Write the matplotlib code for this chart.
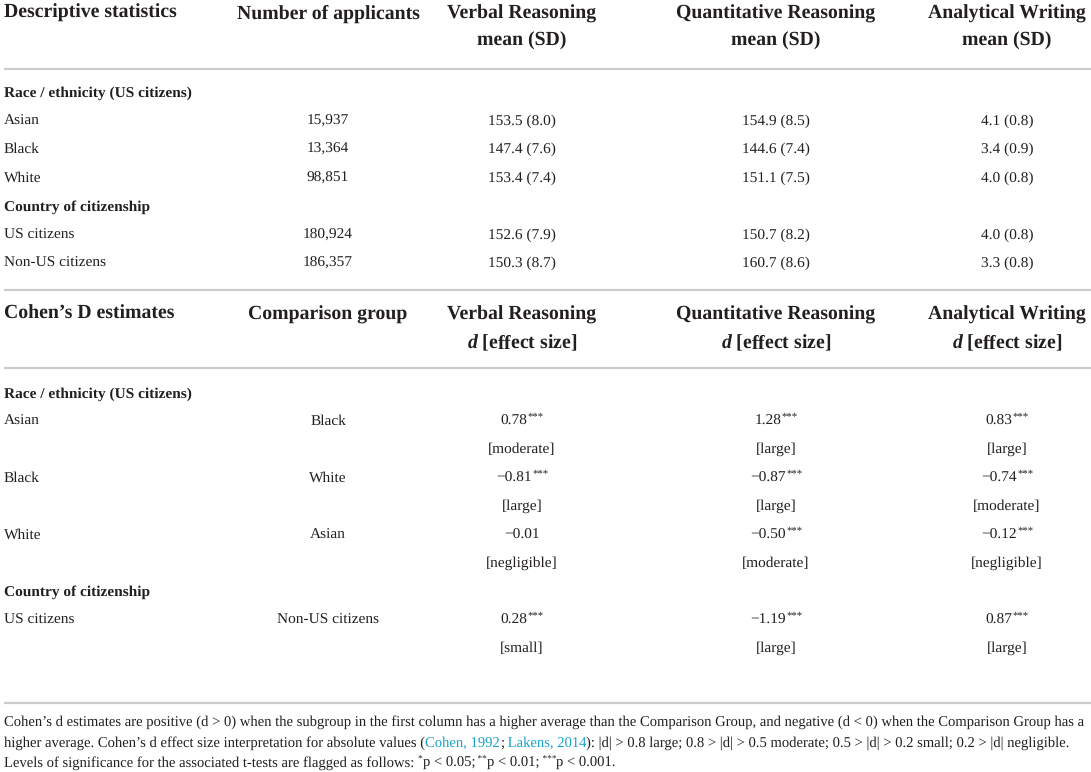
import matplotlib
matplotlib.use("Agg")
import matplotlib.pyplot as plt

plt.rcParams['font.family'] = ['Liberation Serif', 'DejaVu Serif']
plt.rcParams['mathtext.fontset'] = 'custom'
plt.rcParams['mathtext.rm'] = 'Liberation Serif'
plt.rcParams['mathtext.it'] = 'Liberation Serif:italic'
plt.rcParams['mathtext.bf'] = 'Liberation Serif:bold'
plt.rcParams['mathtext.bfit'] = 'Liberation Serif:italic:bold'
plt.rcParams['text.hinting'] = 'no_hinting'

# ---------------- data ----------------
desc_groups = ["Asian", "Black", "White", "US citizens", "Non-US citizens"]
n_applicants = ["15,937", "13,364", "98,851", "180,924", "186,357"]
vr_mean = [153.5, 147.4, 153.4, 152.6, 150.3]
vr_sd = [8.0, 7.6, 7.4, 7.9, 8.7]
qr_mean = [154.9, 144.6, 151.1, 150.7, 160.7]
qr_sd = [8.5, 7.4, 7.5, 8.2, 8.6]
aw_mean = [4.1, 3.4, 4.0, 4.0, 3.3]
aw_sd = [0.8, 0.9, 0.8, 0.8, 0.8]

d_groups = ["Asian", "Black", "White", "US citizens"]
d_comparison = ["Black", "White", "Asian", "Non-US citizens"]
vr_d = [0.78, -0.81, -0.01, 0.28]
vr_sig = ["***", "***", "", "***"]
vr_eff = ["moderate", "large", "negligible", "small"]
qr_d = [1.28, -0.87, -0.50, -1.19]
qr_sig = ["***", "***", "***", "***"]
qr_eff = ["large", "large", "moderate", "large"]
aw_d = [0.83, -0.74, -0.12, 0.87]
aw_sig = ["***", "***", "***", "***"]
aw_eff = ["large", "moderate", "negligible", "large"]

sec1_title = "Descriptive statistics"
sec2_title = "Cohen\u2019s D estimates"
sub_race = "Race / ethnicity (US citizens)"
sub_country = "Country of citizenship"

# ---------------- layout ----------------
W, H = 1091, 772
fig = plt.figure(figsize=(W / 100, H / 100), dpi=100)
ax = fig.add_axes([0, 0, 1, 1])
ax.set_xlim(0, W)
ax.set_ylim(H, 0)
ax.axis('off')
renderer = fig.canvas.get_renderer()

TXT = '#231f20'
LINE = '#cccccc'
CITE = '#1aa3c8'
HFS = 14.2
BFS = 11.1
FFS = 10.5
XL = 4
XC = [328, 522, 776, 1007]
VA = 'center_baseline'
DY = -1.8

def hline(y):
    ax.plot([XL, W], [y, y], color=LINE, lw=1.6, solid_capstyle='butt')

def t(x, y, s, ha='center', bold=False, fs=BFS, color=TXT):
    return ax.text(x, y + DY, s, ha=ha, va=VA, fontsize=fs,
                   fontweight='bold' if bold else 'normal', color=color)

def width(s, fs):
    tx = ax.text(0, 0, s, fontsize=fs)
    w = tx.get_window_extent(renderer).width
    tx.remove()
    return w

def fmt_d(v):
    s = f"{abs(v):.2f}"
    if v < 0:
        s = "\u2212" + s
    return s

def value_with_stars(xc, y, s, stars, fs=BFS):
    sfs = fs * 0.7
    wn = width(s, fs)
    ws = width(stars, sfs) if stars else 0
    x0 = xc - (wn + ws) / 2
    ax.text(x0, y + DY, s, ha='left', va=VA, fontsize=fs, color=TXT)
    if stars:
        ax.text(x0 + wn + 0.5, y + DY - 3, stars, ha='left', va=VA, fontsize=sfs, color=TXT)

# ---- section 1 header ----
t(XL, 13, sec1_title, ha='left', bold=True, fs=HFS)
t(XC[0], 13, "Number of applicants", bold=True, fs=HFS)
for x, name in zip(XC[1:], ["Verbal Reasoning", "Quantitative Reasoning", "Analytical Writing"]):
    t(x, 13, name, bold=True, fs=HFS)
    t(x, 41, "mean (SD)", bold=True, fs=HFS)
hline(69)

t(XL, 93, sub_race, ha='left', bold=True)
rows_y = [121, 149, 178, 235, 263]
t(XL, 207, sub_country, ha='left', bold=True)
for i, y in enumerate(rows_y):
    t(XL, y, desc_groups[i], ha='left')
    t(XC[0], y, n_applicants[i])
    t(XC[1], y, f"{vr_mean[i]:.1f} ({vr_sd[i]:.1f})")
    t(XC[2], y, f"{qr_mean[i]:.1f} ({qr_sd[i]:.1f})")
    t(XC[3], y, f"{aw_mean[i]:.1f} ({aw_sd[i]:.1f})")
hline(290)

# ---- section 2 header ----
t(XL, 314, sec2_title, ha='left', bold=True, fs=HFS)
t(XC[0], 314, "Comparison group", bold=True, fs=HFS)
for x, name in zip(XC[1:], ["Verbal Reasoning", "Quantitative Reasoning", "Analytical Writing"]):
    t(x, 314, name, bold=True, fs=HFS)
    t(x, 342, r"$\mathbfit{d}$ [effect size]", bold=True, fs=HFS)
hline(368)

t(XL, 394, sub_race, ha='left', bold=True)
t(XL, 592, sub_country, ha='left', bold=True)
d_y = [421, 478, 535, 620]
for i, y in enumerate(d_y):
    t(XL, y, d_groups[i], ha='left')
    t(XC[0], y, d_comparison[i])
    for x, dv, sg, ef in [(XC[1], vr_d, vr_sig, vr_eff), (XC[2], qr_d, qr_sig, qr_eff),
                          (XC[3], aw_d, aw_sig, aw_eff)]:
        value_with_stars(x, y, fmt_d(dv[i]), sg[i])
        t(x, y + 28.5, f"[{ef[i]}]")
hline(703)

# ---- footnotes ----
def seg_line(y, segments):
    x = XL
    for s, c, sup in segments:
        fs = FFS * 0.65 if sup else FFS
        dy = -3 if sup else 0
        tx = ax.text(x, y + DY + dy, s, ha='left', va=VA, fontsize=fs, color=c)
        x += tx.get_window_extent(renderer).width

foot1 = ("Cohen\u2019s d estimates are positive (d > 0) when the subgroup in the first column has a "
         "higher average than the Comparison Group, and negative (d < 0) when the Comparison Group has a")
t(XL, 722, foot1, ha='left', fs=FFS)
seg_line(743, [
    ("higher average. Cohen\u2019s d effect size interpretation for absolute values (", TXT, False),
    ("Cohen, 1992", CITE, False),
    (";", TXT, False),
    (" Lakens, 2014", CITE, False),
    ("): |d| > 0.8 large; 0.8 > |d| > 0.5 moderate; 0.5 > |d| > 0.2 small; 0.2 > |d| negligible.", TXT, False),
])
seg_line(763, [
    ("Levels of significance for the associated t-tests are flagged as follows: ", TXT, False),
    ("*", TXT, True), ("p < 0.05;", TXT, False),
    (" **", TXT, True), ("p < 0.01;", TXT, False),
    (" ***", TXT, True), ("p < 0.001.", TXT, False),
])

fig.savefig("out.png", dpi=100, facecolor='white')
